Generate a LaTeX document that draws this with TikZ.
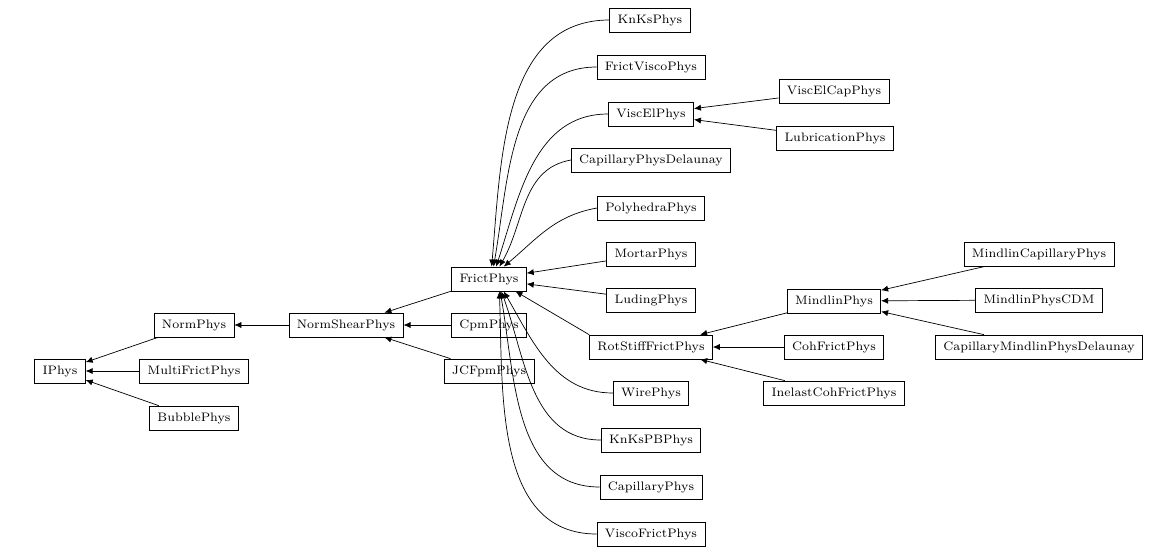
\documentclass[tikz,border=0pt]{standalone}
\usetikzlibrary{arrows.meta}
\tikzset{
  cls/.style={draw,thin,font=\scriptsize,minimum height=0.48cm,inner xsep=4.5pt},
  arr/.style={-{Latex[length=4pt,width=3.5pt]},thin}
}
\begin{document}
\begin{tikzpicture}[x=0.02cm,y=-0.02cm]
\useasboundingbox (0,0) rectangle (1157,556);
% left part
\node [cls] (iphys) at (60,371) {IPhys};
\node [cls] (norm) at (194,325) {NormPhys};
\node [cls] (multi) at (194,371) {MultiFrictPhys};
\node [cls] (bubble) at (194,418) {BubblePhys};
\node [cls] (normshear) at (346,325) {NormShearPhys};
\node [cls] (frict) at (489,279) {FrictPhys};
\node [cls] (cpm) at (489,325) {CpmPhys};
\node [cls] (jcfpm) at (489,371) {JCFpmPhys};
% children of FrictPhys
\node [cls] (knks) at (650,20) {KnKsPhys};
\node [cls] (frictvisco) at (651,67) {FrictViscoPhys};
\node [cls] (viscel) at (651,114) {ViscElPhys};
\node [cls] (capdel) at (651,160) {CapillaryPhysDelaunay};
\node [cls] (poly) at (651,208) {PolyhedraPhys};
\node [cls] (mortar) at (651,254) {MortarPhys};
\node [cls] (luding) at (651,300) {LudingPhys};
\node [cls] (rotstiff) at (651,347) {RotStiffFrictPhys};
\node [cls] (wire) at (651,393) {WirePhys};
\node [cls] (knkspb) at (651,440) {KnKsPBPhys};
\node [cls] (capil) at (651,487) {CapillaryPhys};
\node [cls] (viscofrict) at (651,534) {ViscoFrictPhys};
% right part
\node [cls] (viscelcap) at (834,91) {ViscElCapPhys};
\node [cls] (lubri) at (835,138) {LubricationPhys};
\node [cls] (mindlin) at (834,301) {MindlinPhys};
\node [cls] (cohfrict) at (834,347) {CohFrictPhys};
\node [cls] (inelast) at (834,393) {InelastCohFrictPhys};
\node [cls] (mindcap) at (1039,254) {MindlinCapillaryPhys};
\node [cls] (mindcdm) at (1039,300) {MindlinPhysCDM};
\node [cls] (capmind) at (1039,347) {CapillaryMindlinPhysDelaunay};
% straight edges
\draw [arr] (norm) -- (iphys);
\draw [arr] (multi) -- (iphys);
\draw [arr] (bubble) -- (iphys);
\draw [arr] (normshear) -- (norm);
\draw [arr] (frict) -- (normshear);
\draw [arr] (cpm) -- (normshear);
\draw [arr] (jcfpm) -- (normshear);
\draw [arr] (mortar) -- (frict);
\draw [arr] (luding) -- (frict);
\draw [arr] (rotstiff.north west) -- (frict.-25);
\draw [arr] (viscelcap) -- (viscel);
\draw [arr] (lubri) -- (viscel);
\draw [arr] (mindlin) -- (rotstiff);
\draw [arr] (cohfrict) -- (rotstiff);
\draw [arr] (inelast) -- (rotstiff);
\draw [arr] (mindcap) -- (mindlin);
\draw [arr] (mindcdm) -- (mindlin);
\draw [arr] (capmind) -- (mindlin);
% curved edges into FrictPhys
\draw [arr] (knks.west) to [out=180,in=85] (frict.78);
\draw [arr] (frictvisco.west) to [out=180,in=80] (frict.70);
\draw [arr] (viscel.west) to [out=180,in=72] (frict.60);
\draw [arr] (capdel.west) to [out=190,in=60] (frict.50);
\draw [arr] (poly.west) to [out=190,in=40] (frict.40);
\draw [arr] (wire.west) to [out=180,in=-60] (frict.-40);
\draw [arr] (knkspb.west) to [out=180,in=-70] (frict.-45);
\draw [arr] (capil.west) to [out=180,in=-80] (frict.-48);
\draw [arr] (viscofrict.west) to [out=180,in=-88] (frict.-50);
\end{tikzpicture}
\end{document}
